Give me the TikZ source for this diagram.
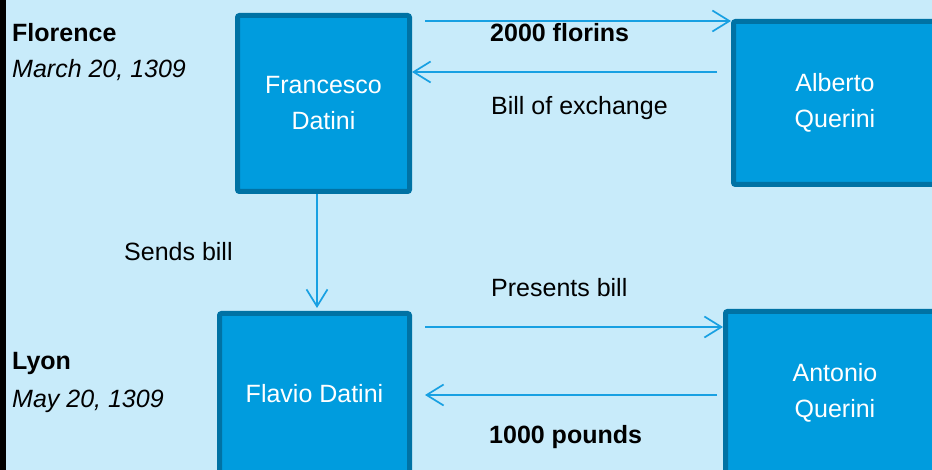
\documentclass[tikz,border=0pt]{standalone}
\usepackage{fontspec}
\setmainfont{Liberation Sans}
\usetikzlibrary{arrows.meta}

\definecolor{paleblue}{RGB}{200,235,250}
\definecolor{boxblue}{RGB}{0,156,222}
\definecolor{edgeblue}{RGB}{0,114,164}
\definecolor{flowblue}{RGB}{24,160,226}

\tikzset{
	party/.style={draw=edgeblue, line width=5pt, fill=boxblue, rounded corners=2pt,
		text=white, align=center, font=\fontsize{25}{36}\selectfont},
	flow/.style={draw=flowblue, line width=1.7pt, -{Straight Barb[length=17pt,width=21pt,line width=1.7pt]}},
	say/.style={anchor=base west, inner sep=0pt, font=\fontsize{25}{30}\selectfont},
}

\begin{document}
\begin{tikzpicture}[x=1pt,y=-1pt]

	%Frame
	\useasboundingbox (0,0) rectangle (932,470);
	\clip (0,0) rectangle (932,470);
	\fill[paleblue] (0,0) rectangle (932,470);
	\fill[black] (0,0) rectangle (6,470);

	%Places and dates
	\node[say] (flo) at (12,42) {\bfseries Florence};
	\node[say] (flodate) at (12,78) {\itshape March 20, 1309};
	\node[say] (lyo) at (12,370) {\bfseries Lyon};
	\node[say] (lyodate) at (12,407) {\itshape May 20, 1309};

	%Merchants
	\node[party, minimum width=172pt, minimum height=176pt] (fran) at (323.5,103.5) {Francesco\\Datini};
	\node[party, minimum width=203pt, minimum height=163pt] (albe) at (835,103) {Alberto\\Querini};
	\node[party, minimum width=190pt, minimum height=160pt] (flav) at (314.5,393.5) {Flavio Datini};
	\node[party, minimum width=219pt, minimum height=162pt] (anto) at (835,392.5) {Antonio\\Querini};

	%Florence
	\draw[flow, shorten <=13pt] ([yshift=-2pt]fran.east |- albe.north) -- ([yshift=-2pt]albe.north west);
	\draw[flow, shorten <=14pt] ([yshift=31pt]albe.west) -- ([yshift=31pt]albe.west -| fran.east);
	\node[say] (florins) at (490,42) {\bfseries 2000 florins};
	\node[say] (bill) at (491,115) {Bill of exchange};

	%Florence to Lyon
	\draw[flow, shorten >=3pt] ([xshift=-6.5pt]fran.south) -- ([xshift=-6.5pt]fran.south |- flav.north);
	\node[say] (sends) at (124,261) {Sends bill};

	%Lyon
	\draw[flow, shorten <=13pt] ([yshift=-16pt]flav.north east) -- ([yshift=-16pt]flav.north east -| anto.west);
	\draw[flow, shorten <=6pt, shorten >=13pt] ([yshift=-1.5pt]anto.west |- flav.east) -- ([yshift=-1.5pt]flav.east);
	\node[say] (presents) at (491,297) {Presents bill};
	\node[say] (pounds) at (489,443) {\bfseries 1000 pounds};

\end{tikzpicture}
\end{document}
